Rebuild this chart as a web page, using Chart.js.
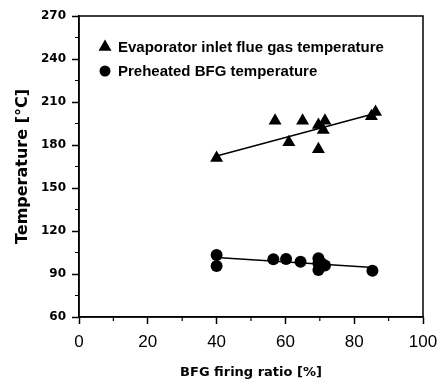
<!DOCTYPE html>
<html><head><meta charset="utf-8">
<script src="https://cdn.jsdelivr.net/npm/chart.js@4.4.0/dist/chart.umd.min.js"></script>
<style>html,body{margin:0;padding:0;background:#fff;}#wrap{width:442px;height:384px;}</style>
</head><body><div id="wrap"><canvas id="c" width="442" height="384"></canvas></div>
<script>
// Data
const seriesNames = ["Evaporator inlet flue gas temperature", "Preheated BFG temperature"];
const evapX = [40, 57, 61, 65, 69.6, 69.6, 71, 71.5, 85, 86.2];
const evapY = [171, 197, 182, 197, 177, 194, 190.5, 197, 200, 203];
const bfgX = [40, 40, 56.5, 60.2, 64.4, 69.6, 69.6, 69.6, 70.5, 71.5, 85.3];
const bfgY = [103.3, 95.6, 100.3, 100.5, 98.6, 101, 97.5, 92.8, 97.5, 96, 92.3];
const evapFitX = [40, 86];
const evapFitY = [172.3, 202];
const bfgFitX = [40, 85.5];
const bfgFitY = [101.5, 94.5];
const xMajorTicks = [0, 20, 40, 60, 80, 100];
const yMajorTicks = [60, 90, 120, 150, 180, 210, 240, 270];
const xMinorTicks = [10, 30, 50, 70, 90];
const yMinorTicks = [75, 105, 135, 165, 195, 225, 255];
const xTitle = "BFG firing ratio [%]";
const yTitle = "Temperature [\u00B0C]";

const pts = (xs, ys) => xs.map((x, i) => ({x: x, y: ys[i]}));

const frame = {
  id: 'frame',
  afterDraw(chart) {
    const {ctx, chartArea: a, scales} = chart;
    ctx.save();
    ctx.strokeStyle = '#000';
    ctx.lineWidth = 1.5;
    ctx.strokeRect(a.left, a.top, a.right - a.left, a.bottom - a.top);
    ctx.lineWidth = 1.2;
    ctx.beginPath();
    xMinorTicks.forEach(v => { const p = scales.x.getPixelForValue(v); ctx.moveTo(p, a.bottom); ctx.lineTo(p, a.bottom + 4); });
    yMinorTicks.forEach(v => { const p = scales.y.getPixelForValue(v); ctx.moveTo(a.left, p); ctx.lineTo(a.left - 4, p); });
    ctx.stroke();
    // legend
    const styles = ['triangle', 'circle'];
    const radii = [7.5, 6];
    ctx.fillStyle = '#000';
    ctx.font = 'bold 15px "Liberation Sans", Arial, sans-serif';
    ctx.textBaseline = 'middle';
    ctx.textAlign = 'left';
    seriesNames.forEach((name, i) => {
      const cy = a.top + 31 + i * 24;
      const cx = a.left + 26;
      ctx.beginPath();
      if (styles[i] === 'circle') {
        ctx.arc(cx, cy, radii[i] - 0.5, 0, Math.PI * 2);
      } else {
        const r = radii[i];
        ctx.moveTo(cx, cy - r);
        ctx.lineTo(cx + r * Math.sin(Math.PI / 3), cy + r / 2);
        ctx.lineTo(cx - r * Math.sin(Math.PI / 3), cy + r / 2);
        ctx.closePath();
      }
      ctx.fill();
      ctx.fillText(name, a.left + 39, cy + 1);
    });
    ctx.restore();
  }
};

new Chart(document.getElementById('c'), {
  type: 'scatter',
  data: {
    datasets: [
      {label: seriesNames[0], data: pts(evapX, evapY), pointStyle: 'triangle', pointRadius: 7.5, backgroundColor: '#000', borderColor: '#000', borderWidth: 0, showLine: false},
      {label: seriesNames[1], data: pts(bfgX, bfgY), pointStyle: 'circle', pointRadius: 6, backgroundColor: '#000', borderColor: '#000', borderWidth: 0, showLine: false},
      {label: 'fit1', data: pts(evapFitX, evapFitY), showLine: true, pointRadius: 0, borderColor: '#000', borderWidth: 1.5},
      {label: 'fit2', data: pts(bfgFitX, bfgFitY), showLine: true, pointRadius: 0, borderColor: '#000', borderWidth: 1.5}
    ]
  },
  options: {
    responsive: false,
    animation: false,
    devicePixelRatio: 1,
    layout: {padding: {top: 16, right: 19, left: 0, bottom: 0}},
    plugins: {legend: {display: false}, tooltip: {enabled: false}},
    scales: {
      x: {
        type: 'linear', min: 0, max: 100,
        afterFit(s) { s.height = 67; s.paddingRight = 0; s.paddingLeft = 0; },
        afterBuildTicks(s) { s.ticks = xMajorTicks.map(v => ({value: v})); },
        grid: {drawOnChartArea: false, drawTicks: true, tickLength: 7, color: '#000', tickWidth: 1.5},
        border: {display: true, color: '#000', width: 1.5},
        ticks: {color: '#000', padding: 8, font: {family: '"Liberation Sans", Arial, sans-serif', size: 17}},
        title: {display: true, text: xTitle, color: '#000', padding: {top: 0, bottom: 4}, font: {family: '"DejaVu Sans", sans-serif', size: 13, weight: 'bold'}}
      },
      y: {
        type: 'linear', min: 60, max: 270,
        afterFit(s) { s.width = 79; },
        afterBuildTicks(s) { s.ticks = yMajorTicks.map(v => ({value: v})); },
        grid: {drawOnChartArea: false, drawTicks: true, tickLength: 7, color: '#000', tickWidth: 1.5},
        border: {display: true, color: '#000', width: 1.5},
        ticks: {color: '#000', padding: 6, font: {family: '"DejaVu Sans", sans-serif', size: 12, weight: 'bold'}},
        title: {display: true, text: yTitle, color: '#000', padding: {top: 13, bottom: 0}, font: {family: '"DejaVu Sans", sans-serif', size: 16, weight: 'bold'}}
      }
    }
  },
  plugins: [frame]
});
</script></body></html>
